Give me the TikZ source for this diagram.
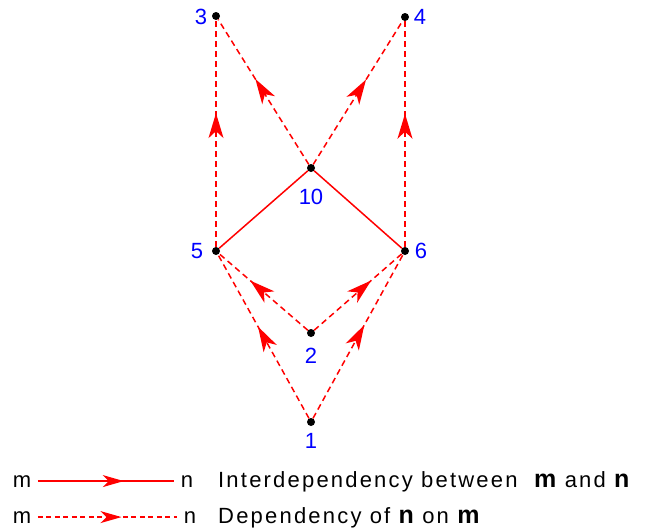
\documentclass[tikz,border=0pt]{standalone}
\usepackage{fontspec}
\setmainfont{Liberation Sans}
\usetikzlibrary{arrows.meta,decorations.markings}
\newcommand\keyvar[1]{{\fontsize{25}{26}\selectfont\bfseries #1}}
\tikzset{
  vertex/.style={circle,fill=black,inner sep=0pt,minimum size=8pt},
  num/.style={text=blue,inner sep=0pt},
  keyend/.style={anchor=base,inner sep=6.5pt},
  link/.style={red,line width=1.5pt},
  dep/.style={red,line width=1.5pt,dash pattern=on 6pt off 4pt},
  mid arrow/.style={postaction={decorate},decoration={markings,
    mark=at position #1 with {\arrow{Stealth[length=25pt,width=15pt,inset=7pt]}}}},
  key arrow/.style={postaction={decorate},decoration={markings,
    mark=at position #1 with {\arrow{Stealth[length=21pt,width=12pt,inset=6pt]}}}},
}
\begin{document}
\begin{tikzpicture}[x=1pt,y=-1pt,every node/.style={font=\fontsize{22}{26}\selectfont}]
\useasboundingbox (0,0) rectangle (654,531);
% vertices and their numbers
\foreach \n/\x/\y/\lx/\ly in {3/216/16/201/17,4/405/17/420/17,10/311/168/311/197,5/216/251/197/251,6/405/251/421/251,2/311/333/311/356,1/311/422/311/441} {
  \node[vertex] (v\n) at (\x,\y) {};
  \node[num] (l\n) at (\lx,\ly) {\n};
}
% dependencies (dashed)
\foreach \a/\b/\p in {5/3/0.59,10/3/0.59,10/4/0.59,6/4/0.59,2/5/0.65,2/6/0.65,1/5/0.56,1/6/0.57}
  \draw[dep,mid arrow=\p] (v\a) -- (v\b);
% interdependencies (solid)
\draw[link] (v5) -- (v10) -- (v6);
% key
\node[keyend] (m1) at (22,487) {m};
\node[keyend] (n1) at (187,487) {n};
\draw[link,key arrow=0.63] (m1) -- (n1);
\node[keyend] (m2) at (22,523) {m};
\node[keyend] (n2) at (190,523) {n};
\draw[dep,dash pattern=on 5pt off 3.5pt,key arrow=0.6] (m2) -- (n2);
\node[anchor=base west,inner sep=0pt] (t1) at (218,487) {\addfontfeature{LetterSpace=10}Interdependency between\ \ \keyvar{m} and \keyvar{n}};
\node[anchor=base west,inner sep=0pt] (t2) at (218,523) {\addfontfeature{LetterSpace=10}Dependency of \keyvar{n} on \keyvar{m}};
\end{tikzpicture}
\end{document}
